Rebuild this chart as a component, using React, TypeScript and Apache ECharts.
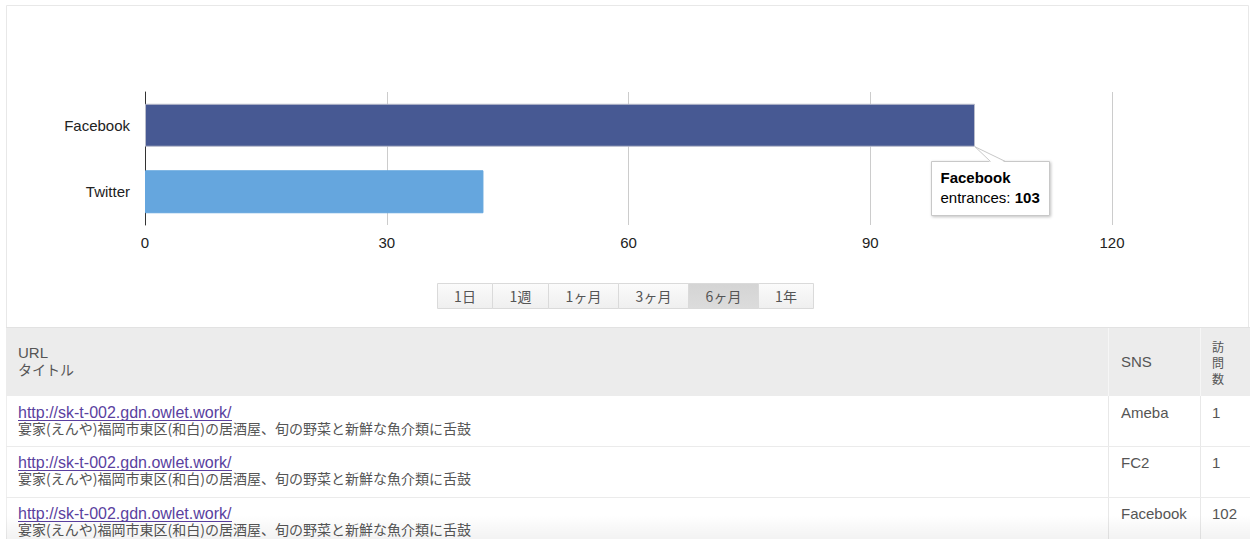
import React, { useEffect, useRef } from "react";
import * as echarts from "echarts";

const categories = ["Facebook", "Twitter"];
const entrances = [103, 42];
const barColors = ["#475993", "#65a6de"];
const tooltipIndex = 0;
const seriesLabel = "entrances";

const periods = ["1日", "1週", "1ヶ月", "3ヶ月", "6ヶ月", "1年"];
const selectedPeriod = "6ヶ月";

const headerUrl = "URL";
const headerTitle = "タイトル";
const headerSns = "SNS";
const headerVisits = ["訪", "問", "数"];
const tableUrls = [
  "http://sk-t-002.gdn.owlet.work/",
  "http://sk-t-002.gdn.owlet.work/",
  "http://sk-t-002.gdn.owlet.work/",
];
const tableTitles = [
  "宴家(えんや)福岡市東区(和白)の居酒屋、旬の野菜と新鮮な魚介類に舌鼓",
  "宴家(えんや)福岡市東区(和白)の居酒屋、旬の野菜と新鮮な魚介類に舌鼓",
  "宴家(えんや)福岡市東区(和白)の居酒屋、旬の野菜と新鮮な魚介類に舌鼓",
];
const tableSns = ["Ameba", "FC2", "Facebook"];
const tableVisits = [1, 1, 102];

const CHART_FONT = '"Liberation Sans", Arial, sans-serif';
const TABLE_FONT = '"Liberation Sans", Arial, "Noto Sans CJK JP", sans-serif';
const JP_FONT = '"Noto Sans CJK JP", "Liberation Sans", sans-serif';

function buildStatic(): any[] {
  const g: any[] = [];
  g.push({
    type: "rect",
    shape: { x: 6.5, y: 5.5, width: 1242, height: 322 },
    style: { fill: "none", stroke: "#e8e8e8", lineWidth: 1 },
    silent: true,
  });
  const widths = [55, 56, 70, 70, 70, 55];
  let bx = 437;
  periods.forEach((p, i) => {
    const w = widths[i];
    const sel = p === selectedPeriod;
    g.push({
      type: "rect",
      shape: { x: bx + 0.5, y: 283.5, width: w, height: 25 },
      style: {
        fill: new echarts.graphic.LinearGradient(0, 0, 0, 1, sel
          ? [{ offset: 0, color: "#d4d4d4" }, { offset: 1, color: "#dcdcdc" }]
          : [{ offset: 0, color: "#fbfbfb" }, { offset: 1, color: "#efefef" }]),
        stroke: "#dadada",
        lineWidth: 1,
      },
    });
    g.push({
      type: "text",
      x: bx + w / 2 + 0.5,
      y: 296,
      style: {
        text: p,
        fill: "#555",
        font: "14px " + JP_FONT,
        align: "center",
        verticalAlign: "middle",
      },
    });
    bx += w;
  });

  g.push({
    type: "rect",
    shape: { x: 6, y: 328, width: 1244, height: 68 },
    style: { fill: "#ececec" },
  });
  g.push({ type: "line", shape: { x1: 6, y1: 327.5, x2: 1250, y2: 327.5 }, style: { stroke: "#e2e2e2", lineWidth: 1 } });
  [1108.5, 1200.5].forEach((x) => {
    g.push({ type: "line", shape: { x1: x, y1: 328, x2: x, y2: 396 }, style: { stroke: "#f6f6f6", lineWidth: 1 } });
    g.push({ type: "line", shape: { x1: x, y1: 396, x2: x, y2: 539 }, style: { stroke: "#e8e8e8", lineWidth: 1 } });
  });
  g.push({ type: "line", shape: { x1: 6.5, y1: 396, x2: 6.5, y2: 539 }, style: { stroke: "#eeeeee", lineWidth: 1 } });
  g.push({ type: "text", x: 18, y: 352, style: { text: headerUrl, fill: "#555", font: "15px " + TABLE_FONT, verticalAlign: "middle" } });
  g.push({ type: "text", x: 18, y: 369, style: { text: headerTitle, fill: "#555", font: "14px " + JP_FONT, verticalAlign: "middle" } });
  g.push({ type: "text", x: 1121, y: 361, style: { text: headerSns, fill: "#555", font: "15px " + TABLE_FONT, verticalAlign: "middle" } });
  headerVisits.forEach((c, i) => {
    g.push({
      type: "text",
      x: 1212,
      y: 346 + i * 16,
      style: { text: c, fill: "#555", font: "12px " + JP_FONT, lineHeight: 12, verticalAlign: "middle" },
    });
  });

  const rowTop = [396, 446, 497];
  rowTop.forEach((top, i) => {
    if (i > 0) {
      g.push({ type: "line", shape: { x1: 6, y1: top + 0.5, x2: 1250, y2: top + 0.5 }, style: { stroke: "#ebebeb", lineWidth: 1 } });
    }
    const ly = top + 16;
    g.push({ type: "text", x: 18, y: ly, style: { text: tableUrls[i], fill: "#5a3fa0", font: "16px " + TABLE_FONT, verticalAlign: "middle" } });
    g.push({ type: "line", shape: { x1: 18, y1: ly + 8.5, x2: 232, y2: ly + 8.5 }, style: { stroke: "#5a3fa0", lineWidth: 1 } });
    g.push({ type: "text", x: 18, y: ly + 16, style: { text: tableTitles[i], fill: "#555", font: "14px " + JP_FONT, verticalAlign: "middle" } });
    g.push({ type: "text", x: 1121, y: ly, style: { text: tableSns[i], fill: "#555", font: "15px " + TABLE_FONT, verticalAlign: "middle" } });
    g.push({ type: "text", x: 1212, y: ly, style: { text: String(tableVisits[i]), fill: "#555", font: "15px " + TABLE_FONT, verticalAlign: "middle" } });
  });
  g.push({
    type: "rect",
    shape: { x: 6, y: 515, width: 1244, height: 24 },
    style: {
      fill: new echarts.graphic.LinearGradient(0, 0, 0, 1, [
        { offset: 0, color: "rgba(0,0,0,0)" },
        { offset: 1, color: "rgba(0,0,0,0.05)" },
      ]),
    },
    silent: true,
  });
  return g;
}

function buildTooltip(px: number[], barHalf: number): any[] {
  const tipX = px[0];
  const tipY = px[1] + barHalf;
  const boxX = Math.round(tipX) - 44 + 0.5;
  const boxY = Math.round(tipY) + 14 + 0.5;
  const w = 118;
  const h = 54;
  return [
    {
      type: "rect",
      shape: { x: boxX, y: boxY, width: w, height: h },
      style: {
        fill: "#fff",
        stroke: "#c8c8c8",
        lineWidth: 1,
        shadowBlur: 3,
        shadowOffsetX: 1,
        shadowOffsetY: 1,
        shadowColor: "rgba(0,0,0,0.25)",
      },
      z: 100,
    },
    {
      type: "polygon",
      shape: { points: [[tipX, tipY], [boxX + 59, boxY + 1], [boxX + 74, boxY + 1]] },
      style: { fill: "#fff" },
      z: 101,
    },
    {
      type: "polyline",
      shape: { points: [[boxX + 59, boxY], [tipX, tipY], [boxX + 74, boxY]] },
      style: { stroke: "#c8c8c8", lineWidth: 1, fill: "none" },
      z: 102,
    },
    {
      type: "text",
      x: boxX + 9,
      y: boxY + 16,
      z: 103,
      style: {
        text: categories[tooltipIndex],
        fill: "#000",
        font: "bold 15px " + CHART_FONT,
        verticalAlign: "middle",
      },
    },
    {
      type: "text",
      x: boxX + 9,
      y: boxY + 36,
      z: 103,
      style: {
        text: seriesLabel + ": {b|" + entrances[tooltipIndex] + "}",
        fill: "#000",
        font: "15px " + CHART_FONT,
        verticalAlign: "middle",
        rich: { b: { fontWeight: "bold", fontSize: 15, fontFamily: CHART_FONT, fill: "#000" } },
      },
    },
  ];
}

export default function App() {
  const ref = useRef<HTMLDivElement>(null);
  useEffect(() => {
    if (!ref.current) return;
    const chart = echarts.init(ref.current, null, { renderer: "svg" });
    const barWidth = 43;
    chart.setOption({
      animation: false,
      backgroundColor: "#fff",
      grid: { left: 145, right: 138, top: 92, height: 133, containLabel: false },
      xAxis: {
        type: "value",
        min: 0,
        max: 120,
        interval: 30,
        axisLine: { show: false },
        axisTick: { show: false },
        splitLine: { show: true, lineStyle: { color: "#cccccc", width: 1 } },
        axisLabel: { color: "#222", fontSize: 15, fontFamily: CHART_FONT, margin: 10 },
      },
      yAxis: {
        type: "category",
        data: categories,
        inverse: true,
        axisLine: { show: true, lineStyle: { color: "#333", width: 1 } },
        axisTick: { show: false },
        splitLine: { show: false },
        axisLabel: { color: "#222", fontSize: 15, fontFamily: CHART_FONT, margin: 15 },
      },
      series: [
        {
          type: "bar",
          barWidth,
          data: entrances.map((v, i) => ({
            value: v,
            itemStyle: { color: barColors[i], borderColor: i === 0 ? "#b9bccb" : barColors[i], borderWidth: 1 },
          })),
          z: 3,
        },
      ],
      graphic: buildStatic(),
    });
    const px = chart.convertToPixel({ xAxisIndex: 0, yAxisIndex: 0 }, [entrances[tooltipIndex], tooltipIndex]) as number[];
    chart.setOption({ graphic: [...buildStatic(), ...buildTooltip(px, barWidth / 2)] }, { replaceMerge: ["graphic"] });
    return () => chart.dispose();
  }, []);
  return (
    <div
      ref={ref}
      style={{ position: "absolute", left: 0, top: 0, width: 1250, height: 539 }}
    />
  );
}
